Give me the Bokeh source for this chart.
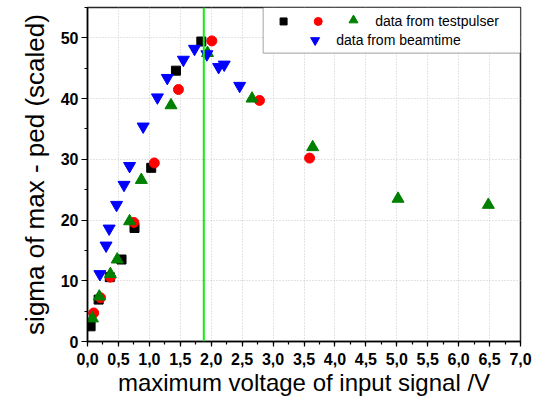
from bokeh.plotting import figure
from bokeh.models import (Range1d, FixedTicker, CustomJSTickFormatter, Span,
                          BoxAnnotation, Label)
from bokeh.embed import file_html
from bokeh.resources import INLINE
import numpy as np

# ---- data ----
sq_x = [0.05, 0.18, 0.36, 0.55, 0.76, 1.03, 1.43, 1.84]
sq_y = [2.5, 6.9, 10.6, 13.5, 18.7, 28.6, 44.6, 49.4]

ci_x = [0.10, 0.21, 0.37, 0.75, 1.08, 1.47, 2.01, 2.78, 3.59]
ci_y = [4.7, 7.2, 10.6, 19.6, 29.4, 41.5, 49.5, 39.7, 30.2]

tr_x = [0.08, 0.19, 0.37, 0.48, 0.68, 0.87, 1.35, 1.94, 2.66, 3.64, 5.02, 6.48]
tr_y = [3.8, 7.4, 11.1, 13.5, 19.8, 26.6, 38.9, 47.5, 40.0, 32.0, 23.5, 22.5]

bt_x = [0.20, 0.30, 0.35, 0.47, 0.59, 0.68, 0.90, 1.13, 1.29, 1.55, 1.73,
        1.93, 2.12, 2.21, 2.46]
bt_y = [11.1, 15.8, 18.6, 22.5, 25.8, 28.9, 35.4, 40.2, 43.4, 46.4, 48.2,
        47.3, 45.2, 45.6, 42.1]

marker_line_x = 1.88

x_ticks = [0.0, 0.5, 1.0, 1.5, 2.0, 2.5, 3.0, 3.5, 4.0, 4.5, 5.0, 5.5, 6.0, 6.5, 7.0]
x_tick_labels = ["0,0", "0,5", "1,0", "1,5", "2,0", "2,5", "3,0", "3,5", "4,0",
                 "4,5", "5,0", "5,5", "6,0", "6,5", "7,0"]
y_ticks = [0, 10, 20, 30, 40, 50]
y_tick_labels = ["0", "10", "20", "30", "40", "50"]

legend_labels = ["data from testpulser", "data from beamtime"]

# ---- figure ----
p = figure(width=535, height=414, output_backend="svg", toolbar_location=None,
           x_range=Range1d(0, 7), y_range=Range1d(0, 55),
           min_border_left=87, min_border_right=15,
           min_border_top=7, min_border_bottom=73)
p.background_fill_color = "white"
p.border_fill_color = "white"
p.outline_line_color = "black"
p.outline_line_width = 1.5
p.outline_line_alpha = 0.85

fmt_js = ("const i = tvals.findIndex(t => Math.abs(t - tick) < 1e-6);"
          "return i >= 0 ? tlabels[i] : '';")

p.xaxis.ticker = FixedTicker(ticks=x_ticks,
                             minor_ticks=list(np.arange(0, 7.01, 0.25)))
p.xaxis.formatter = CustomJSTickFormatter(args=dict(tvals=x_ticks, tlabels=x_tick_labels),
                                          code=fmt_js)
p.yaxis.ticker = FixedTicker(ticks=y_ticks, minor_ticks=list(range(0, 56, 5)))
p.yaxis.formatter = CustomJSTickFormatter(args=dict(tvals=y_ticks, tlabels=y_tick_labels),
                                          code=fmt_js)

for ax in (p.xaxis, p.yaxis):
    ax.axis_line_color = "black"
    ax.axis_line_width = 1.5
    ax.major_tick_line_color = "black"
    ax.minor_tick_line_color = "black"
    ax.major_tick_line_width = 1.2
    ax.minor_tick_line_width = 1.2
    ax.major_tick_in = 0
    ax.minor_tick_in = 0
    ax.major_label_text_font = "Liberation Sans"
    ax.major_label_text_font_style = "bold"
    ax.major_label_text_font_size = "16px"
    ax.major_label_text_color = "black"
    ax.axis_label_text_font = "Liberation Sans"
    ax.axis_label_text_font_style = "normal"
    ax.axis_label_text_color = "black"

p.xaxis.major_tick_out = 5
p.xaxis.minor_tick_out = 3
p.yaxis.major_tick_out = 6
p.yaxis.minor_tick_out = 3
p.xaxis.major_label_standoff = 6
p.yaxis.major_label_standoff = 3

p.xaxis.axis_label = "maximum voltage of input signal /V"
p.xaxis.axis_label_text_font_size = "24px"
p.xaxis.axis_label_standoff = 1
p.yaxis.axis_label = "sigma of max - ped (scaled)"
p.yaxis.axis_label_text_font_size = "26px"
p.yaxis.axis_label_standoff = 8

p.xgrid.ticker = FixedTicker(ticks=x_ticks)
p.ygrid.ticker = FixedTicker(ticks=y_ticks)
for g in (p.xgrid, p.ygrid):
    g.grid_line_color = "#c8c8c8"
    g.grid_line_dash = "1 2"
    g.grid_line_width = 1

# ---- data marks ----
p.scatter(sq_x, sq_y, marker="square", size=9, color="black")
p.scatter(ci_x, ci_y, marker="circle", size=10, color="red")
p.scatter(tr_x, tr_y, marker="triangle", size=12, color="#008000")
p.scatter(bt_x, bt_y, marker="inverted_triangle", size=12, color="blue")

p.add_layout(Span(location=marker_line_x, dimension="height",
                  line_color="#11ee11", line_width=2))

# ---- legend (drawn by hand, two rows) ----
p.add_layout(BoxAnnotation(left=2.84, right=7, bottom=47.5, top=55,
                           fill_color="white", fill_alpha=1,
                           line_color="black", line_width=1.2))
p.scatter([3.17], [52.7], marker="square", size=7, color="black", level="overlay")
p.scatter([3.73], [52.7], marker="circle", size=8, color="red", level="overlay")
p.scatter([4.30], [52.9], marker="triangle", size=9, color="#008000", level="overlay")
p.scatter([3.68], [49.6], marker="inverted_triangle", size=9, color="blue", level="overlay")
p.add_layout(Label(x=4.65, y=52.7, text=legend_labels[0], text_font="Liberation Sans",
                   text_font_size="14px", text_baseline="middle", text_color="black"))
p.add_layout(Label(x=4.02, y=49.6, text=legend_labels[1], text_font="Liberation Sans",
                   text_font_size="14px", text_baseline="middle", text_color="black"))

html = file_html(p, INLINE)
html = html.replace("<head>", "<head><style>html,body{margin:0;padding:0;}</style>", 1)
open("out.html", "w").write(html)
